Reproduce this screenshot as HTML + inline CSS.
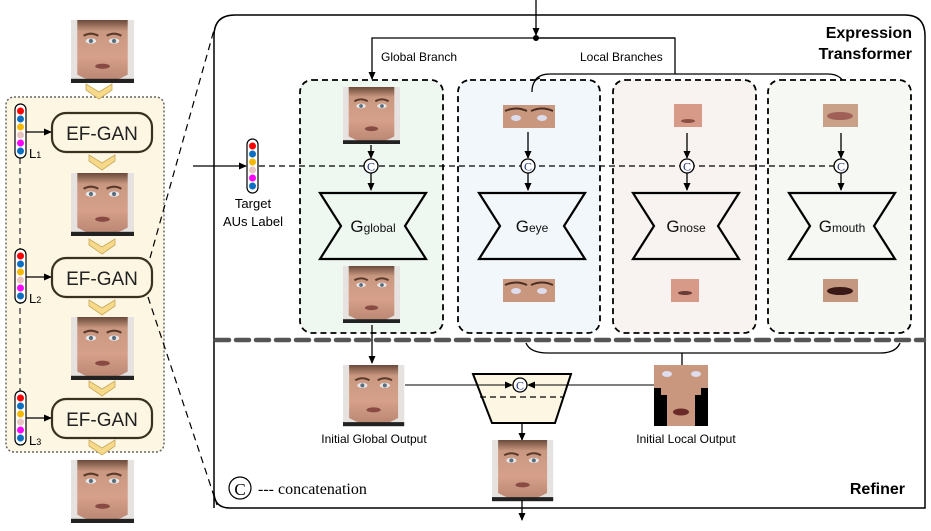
<!DOCTYPE html>
<html><head><meta charset="utf-8"><style>
html,body{margin:0;padding:0;background:#fff;}
svg{display:block;}
text{font-family:"Liberation Sans",sans-serif;}
</style></head><body>
<svg width="931" height="531" viewBox="0 0 931 531" xmlns="http://www.w3.org/2000/svg">
<defs>
<marker id="ar" markerWidth="8" markerHeight="8" refX="7" refY="4" orient="auto" markerUnits="userSpaceOnUse"><path d="M0,0.5 L8,4 L0,7.5z" fill="#000"/></marker>
<linearGradient id="sk" x1="0" y1="0" x2="0" y2="1"><stop offset="0" stop-color="#6a4a3a"/><stop offset="0.18" stop-color="#c99880"/><stop offset="0.6" stop-color="#d6a08a"/><stop offset="1" stop-color="#b88570"/></linearGradient>
<g id="face">
<rect x="0" y="0" width="60" height="60" fill="#e6e2df"/>
<path d="M6,0 H54 V52 Q30,66 6,52z" fill="url(#sk)"/>
<ellipse cx="19" cy="20" rx="5" ry="2.5" fill="#e8e8ea"/><circle cx="19" cy="20" r="2" fill="#5a7080"/>
<ellipse cx="41" cy="20" rx="5" ry="2.5" fill="#e8e8ea"/><circle cx="41" cy="20" r="2" fill="#5a7080"/>
<path d="M12,15 Q19,11 26,15 M34,15 Q41,11 48,15" stroke="#5a3a2a" stroke-width="2" fill="none"/>
<ellipse cx="30" cy="44" rx="7" ry="2.5" fill="#8a4a44"/>
<rect x="0" y="56" width="60" height="4" fill="#222"/>
</g>
<g id="pill">
<rect x="0" y="0" width="11" height="54" rx="5.5" fill="#fff" stroke="#000" stroke-width="1.2"/>
<circle cx="5.5" cy="7" r="3.5" fill="#f00"/><circle cx="5.5" cy="15" r="3.5" fill="#0a6fc2"/>
<circle cx="5.5" cy="23" r="3.5" fill="#f9b800"/><circle cx="5.5" cy="31" r="3.5" fill="#e8c4c0"/>
<circle cx="5.5" cy="39" r="3.5" fill="#f0f"/><circle cx="5.5" cy="47" r="3.5" fill="#0a6fc2"/>
</g>
<g id="chev"><path d="M0,0 L13,8 L26,0 L26,6 L13,15 L0,6z" fill="#f7d98a" stroke="#c9a85a" stroke-width="0.8"/></g>
<g id="cc"><circle r="7" fill="#fff" stroke="#000" stroke-width="1.3"/><text x="0" y="4.5" font-family="Liberation Serif,serif" font-size="12" text-anchor="middle" fill="#1a2f7a" style="font-family:'Liberation Serif',serif">C</text></g>
</defs>

<!-- left panel -->
<rect x="6" y="97" width="158" height="355" rx="8" fill="#fdf6e3" stroke="#666" stroke-width="1.5" stroke-dasharray="2,2"/>
<use href="#face" transform="translate(71,20) scale(1.05)"/>
<use href="#chev" transform="translate(86,84)"/>
<line x1="20" y1="158" x2="20" y2="400" stroke="#000" stroke-dasharray="6,4"/>
<g font-size="19" fill="#222">
<rect x="52" y="113" width="100" height="39" rx="14" fill="#fdf6e3" stroke="#3a3020" stroke-width="2.2"/><text x="102" y="140" text-anchor="middle">EF-GAN</text>
<rect x="52" y="258" width="100" height="39" rx="14" fill="#fdf6e3" stroke="#3a3020" stroke-width="2.2"/><text x="102" y="285" text-anchor="middle">EF-GAN</text>
<rect x="52" y="399" width="100" height="39" rx="14" fill="#fdf6e3" stroke="#3a3020" stroke-width="2.2"/><text x="102" y="426" text-anchor="middle">EF-GAN</text>
</g>
<use href="#pill" transform="translate(15,104)"/><use href="#pill" transform="translate(15,249)"/><use href="#pill" transform="translate(15,391)"/>
<g stroke="#000" stroke-width="1.2"><line x1="26" y1="132" x2="51" y2="132" marker-end="url(#ar)"/><line x1="26" y1="277" x2="51" y2="277" marker-end="url(#ar)"/><line x1="26" y1="418" x2="51" y2="418" marker-end="url(#ar)"/></g>
<g font-size="13" fill="#000"><text x="29" y="158">L<tspan font-size="9">1</tspan></text><text x="29" y="303">L<tspan font-size="9">2</tspan></text><text x="29" y="445">L<tspan font-size="9">3</tspan></text></g>
<use href="#chev" transform="translate(89,155)"/>
<use href="#face" transform="translate(71,173) scale(1.05)"/>
<use href="#chev" transform="translate(89,239)"/>
<use href="#chev" transform="translate(89,300)"/>
<use href="#face" transform="translate(71,317) scale(1.05)"/>
<use href="#chev" transform="translate(89,381)"/>
<use href="#chev" transform="translate(89,440)"/>
<use href="#face" transform="translate(71,460) scale(1.05)"/>

<!-- zoom dashed lines -->
<g stroke="#000" stroke-width="1.2" stroke-dasharray="7,5" fill="none"><line x1="150" y1="258" x2="214" y2="30"/><line x1="148" y1="297" x2="217" y2="505"/></g>

<!-- main frame -->
<path d="M214,508 V36 Q214,15 235,15 H905 Q925,15 925,36 V508 H230 Q214,508 214,492" fill="none" stroke="#000" stroke-width="1.5"/>
<text x="912" y="38" font-size="16" font-weight="bold" text-anchor="end">Expression</text>
<text x="912" y="59" font-size="16" font-weight="bold" text-anchor="end">Transformer</text>
<text x="905" y="494" font-size="16" font-weight="bold" text-anchor="end">Refiner</text>

<!-- top connectors -->
<g stroke="#000" stroke-width="1.3" fill="none">
<line x1="536" y1="0" x2="536" y2="35" marker-end="url(#ar)"/>
<path d="M675,38 H372 V79" marker-end="url(#ar)"/>
<path d="M536,38 H675 V74"/>
<path d="M532,92 Q532,74 550,74 H828 Q844,74 846,90"/>
</g>
<circle cx="536" cy="38" r="3" fill="#000"/>
<text x="381" y="61" font-size="12">Global Branch</text>
<text x="580" y="61" font-size="12">Local Branches</text>

<!-- branch boxes -->
<g stroke="#000" stroke-width="1.8" stroke-dasharray="6,4">
<rect x="300" y="80" width="143" height="253" rx="12" fill="#eef7f0"/>
<rect x="458" y="80" width="142" height="253" rx="12" fill="#f2f7fb"/>
<rect x="613" y="80" width="143" height="253" rx="12" fill="#f8f3f0"/>
<rect x="768" y="80" width="143" height="253" rx="12" fill="#f5f8f3"/>
</g>
<path d="M532,92 Q532,80 540,78" stroke="#000" stroke-width="1.3" fill="none"/>

<!-- target AUs -->
<line x1="193" y1="166" x2="246" y2="166" stroke="#000" stroke-width="1.3" marker-end="url(#ar)"/>
<use href="#pill" transform="translate(247,139)"/>
<line x1="259" y1="166" x2="835" y2="166" stroke="#000" stroke-width="1.2" stroke-dasharray="6,4"/>
<text x="253" y="208" font-size="13" text-anchor="middle">Target</text>
<text x="253" y="226" font-size="13" text-anchor="middle">AUs Label</text>

<!-- images -->
<use href="#face" transform="translate(343,87) scale(0.95)"/>
<use href="#face" transform="translate(343,266) scale(0.95)"/>
<rect x="503" y="105" width="52" height="23" fill="#c9977e"/><ellipse cx="516" cy="118" rx="5" ry="3" fill="#dde"/><ellipse cx="542" cy="118" rx="5" ry="3" fill="#dde"/><path d="M505,111 Q516,106 527,111 M531,111 Q542,106 553,111" stroke="#4a3024" stroke-width="2" fill="none"/>
<rect x="503" y="279" width="52" height="23" fill="#c9977e"/><ellipse cx="516" cy="291" rx="5" ry="3" fill="#dde"/><ellipse cx="542" cy="291" rx="5" ry="3" fill="#dde"/><path d="M505,285 Q516,280 527,285 M531,285 Q542,280 553,285" stroke="#4a3024" stroke-width="2" fill="none"/>
<rect x="674" y="104" width="28" height="23" fill="#d79a88"/><ellipse cx="688" cy="121" rx="7" ry="2" fill="#8a5048"/>
<rect x="671" y="279" width="28" height="23" fill="#d79a88"/><ellipse cx="685" cy="293" rx="7" ry="2" fill="#6a3a34"/>
<rect x="823" y="104" width="35" height="23" fill="#c9a088"/><ellipse cx="840" cy="116" rx="13" ry="4" fill="#a06058"/>
<rect x="823" y="279" width="35" height="23" fill="#c49880"/><ellipse cx="840" cy="291" rx="13" ry="4" fill="#3a1818"/>

<!-- arrows & C -->
<g stroke="#000" stroke-width="1.3">
<line x1="371" y1="145" x2="371" y2="158" marker-end="url(#ar)"/><line x1="371" y1="173" x2="371" y2="190" marker-end="url(#ar)"/>
<line x1="528" y1="132" x2="528" y2="158" marker-end="url(#ar)"/><line x1="528" y1="173" x2="528" y2="190" marker-end="url(#ar)"/>
<line x1="687" y1="133" x2="687" y2="158" marker-end="url(#ar)"/><line x1="687" y1="173" x2="687" y2="190" marker-end="url(#ar)"/>
<line x1="841" y1="133" x2="841" y2="158" marker-end="url(#ar)"/><line x1="841" y1="173" x2="841" y2="190" marker-end="url(#ar)"/>
</g>
<use href="#cc" transform="translate(371,166)"/><use href="#cc" transform="translate(528,166)"/><use href="#cc" transform="translate(687,166)"/><use href="#cc" transform="translate(841,166)"/>

<!-- generators -->
<g fill="none" stroke="#000" stroke-width="2.2">
<path d="M320,193 H426 L405,226 L426,259 H320 L341,226z"/>
<path d="M479,193 H585 L564,226 L585,259 H479 L500,226z"/>
<path d="M633,193 H739 L718,226 L739,259 H633 L654,226z"/>
<path d="M789,193 H895 L874,226 L895,259 H789 L810,226z"/>
</g>
<g font-size="17" fill="#111" text-anchor="middle">
<text x="373" y="232">G<tspan font-size="12">global</tspan></text>
<text x="532" y="232">G<tspan font-size="12">eye</tspan></text>
<text x="686" y="232">G<tspan font-size="12">nose</tspan></text>
<text x="842" y="232">G<tspan font-size="12">mouth</tspan></text>
</g>

<!-- thick dashed separator -->
<line x1="216" y1="340" x2="924" y2="340" stroke="#555" stroke-width="4.5" stroke-dasharray="13,7" stroke-linecap="round"/>

<!-- refiner -->
<line x1="372" y1="325" x2="372" y2="363" stroke="#000" stroke-width="1.3" marker-end="url(#ar)"/>
<path d="M526,343 Q530,353 548,353 H880 Q896,353 900,343" fill="none" stroke="#000" stroke-width="1.3"/>
<line x1="682" y1="353" x2="682" y2="365" stroke="#000" stroke-width="1.3"/>
<use href="#face" transform="translate(343,365) scale(1.02)"/>
<text x="374" y="443" font-size="12" text-anchor="middle">Initial Global Output</text>
<rect x="654" y="365" width="54" height="61" fill="#c9977e"/>
<rect x="654" y="388" width="7" height="38" fill="#000"/><rect x="661" y="395" width="6" height="31" fill="#000"/>
<rect x="701" y="388" width="7" height="38" fill="#000"/><rect x="695" y="395" width="6" height="31" fill="#000"/>
<ellipse cx="667" cy="374" rx="5" ry="3" fill="#dde"/><ellipse cx="696" cy="374" rx="5" ry="3" fill="#dde"/><ellipse cx="681" cy="412" rx="8" ry="3.5" fill="#6a2a28"/>
<text x="686" y="443" font-size="12" text-anchor="middle">Initial Local Output</text>
<path d="M473,374 H571 L555,423 H492z" fill="#fdf6e3" stroke="#000" stroke-width="2"/>
<line x1="480" y1="397" x2="564" y2="397" stroke="#000" stroke-width="1.2" stroke-dasharray="6,4"/>
<g stroke="#000" stroke-width="1.1"><line x1="405" y1="385" x2="512" y2="385" marker-end="url(#ar)"/><line x1="654" y1="385" x2="528" y2="385" marker-end="url(#ar)"/></g>
<use href="#cc" transform="translate(520,385)"/>
<line x1="522" y1="423" x2="522" y2="440" stroke="#000" stroke-width="1.3" marker-end="url(#ar)"/>
<use href="#face" transform="translate(492,440) scale(1.02)"/>
<line x1="522" y1="500" x2="522" y2="520" stroke="#000" stroke-width="1.3" marker-end="url(#ar)"/>
<circle cx="240" cy="488" r="11" fill="#fff" stroke="#000" stroke-width="1.2"/>
<text x="240" y="495" font-size="17" text-anchor="middle" style="font-family:'Liberation Serif',serif">C</text>
<text x="258" y="494" font-size="16" style="font-family:'Liberation Serif',serif">--- concatenation</text>
</svg>
</body></html>
